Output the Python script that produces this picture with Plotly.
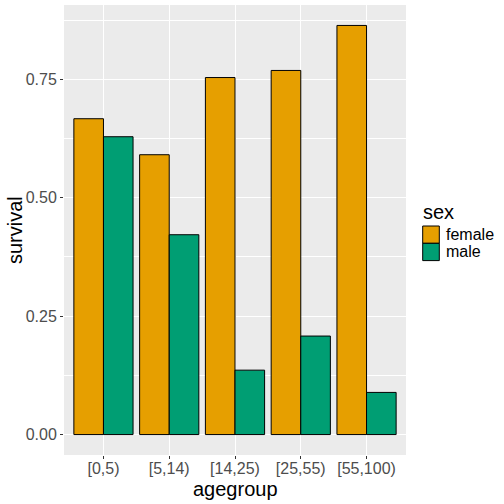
import plotly.graph_objects as go

agegroups = ["[0,5)", "[5,14)", "[14,25)", "[25,55)", "[55,100)"]
female_survival = [0.667, 0.591, 0.754, 0.769, 0.864]
male_survival = [0.629, 0.422, 0.136, 0.208, 0.089]
y_ticks = [0.0, 0.25, 0.5, 0.75]
series_names = ["female", "male"]
series_colors = ["#E69F00", "#009E73"]

W, H = 504, 504
L, R, T, B = 64, 98, 5, 49
pw, ph = W - L - R, H - T - B

fig = go.Figure()
for name, vals, col in zip(series_names, [female_survival, male_survival], series_colors):
    fig.add_trace(go.Bar(
        x=agegroups, y=vals, name=name, marker=dict(color=col, line=dict(color="black", width=1)),
        showlegend=False,
    ))

ymax = max(female_survival + male_survival)
pad = ymax * 0.05

fig.update_layout(
    width=W, height=H,
    margin=dict(l=L, r=R, t=T, b=B, pad=0, autoexpand=False),
    paper_bgcolor="white", plot_bgcolor="#EBEBEB",
    barmode="group", bargap=0.1, bargroupgap=0,
    font=dict(family="Liberation Sans, Arial, sans-serif", color="#4D4D4D", size=16),
)
fig.update_xaxes(
    type="category", range=[-0.6, len(agegroups) - 0.4], automargin=False,
    showgrid=True, gridcolor="white", gridwidth=1.1, zeroline=False,
    ticks="outside", ticklen=3, tickcolor="#333333", tickwidth=1,
    ticklabelstandoff=-4,
    tickfont=dict(size=16, color="#4D4D4D"),
)
fig.update_yaxes(
    range=[-pad, ymax + pad], tickvals=y_ticks, tickformat=".2f", automargin=False,
    showgrid=True, gridcolor="white", gridwidth=1.1, zeroline=False,
    minor=dict(dtick=0.125, tick0=0, showgrid=True, gridcolor="white", gridwidth=0.5, ticklen=0),
    ticks="outside", ticklen=3, tickcolor="#333333", tickwidth=1,
    tickfont=dict(size=16, color="#4D4D4D"),
)

def px2x(px):
    return (px - L) / pw

def px2y(py):
    return (H - B - py) / ph

# axis titles
fig.add_annotation(text="agegroup", xref="paper", yref="paper", x=px2x(235), y=px2y(488.5),
                   xanchor="center", yanchor="middle", showarrow=False,
                   font=dict(size=20, color="black"))
fig.add_annotation(text="survival", xref="paper", yref="paper", x=px2x(15), y=px2y(230),
                   xanchor="center", yanchor="middle", showarrow=False, textangle=-90,
                   font=dict(size=20, color="black"))

# manual legend (ggplot style)
key_x0, key_x1 = 422.7, 439.3
key_h = 17.3
top0 = 226
fig.add_annotation(text="sex", xref="paper", yref="paper", x=px2x(421), y=px2y(211.5),
                   xanchor="left", yanchor="middle", showarrow=False,
                   font=dict(size=20, color="black"))
for i, (name, col) in enumerate(zip(series_names, series_colors)):
    y0 = top0 + i * key_h
    fig.add_shape(type="rect", xref="paper", yref="paper",
                  x0=px2x(key_x0), x1=px2x(key_x1), y0=px2y(y0), y1=px2y(y0 + key_h),
                  fillcolor=col, line=dict(color="black", width=1))
    fig.add_annotation(text=name, xref="paper", yref="paper", x=px2x(444), y=px2y(y0 + key_h / 2),
                       xanchor="left", yanchor="middle", showarrow=False,
                       font=dict(size=16, color="black"))

fig.write_html("out.html", config={"displayModeBar": False},
               post_script="document.body.style.margin='0px';document.body.style.overflow='hidden';")
